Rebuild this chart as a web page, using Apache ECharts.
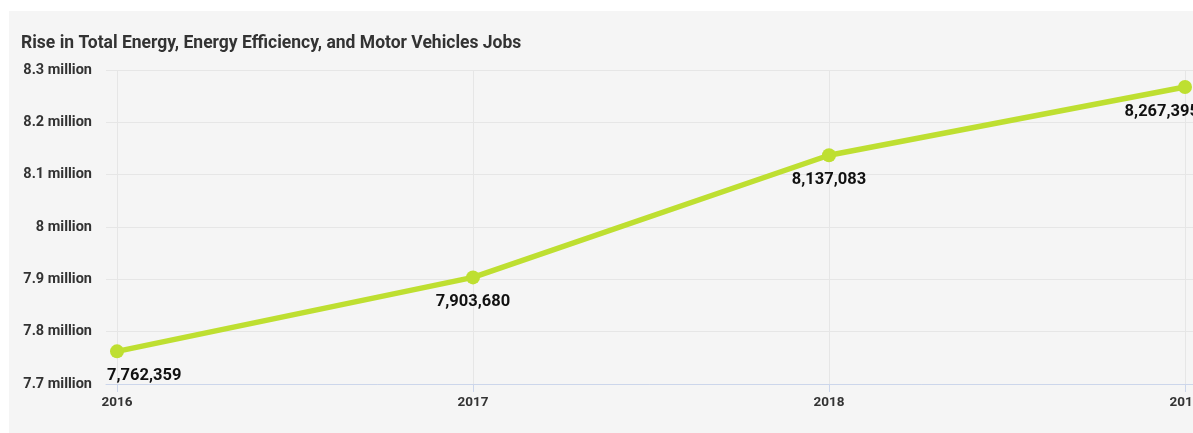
<!DOCTYPE html>
<html>
<head>
<meta charset="utf-8">
<script src="https://cdn.jsdelivr.net/npm/echarts@6/dist/echarts.min.js"></script>
<style>
  html, body { margin: 0; padding: 0; background: #ffffff; }
  #chart { width: 1193px; height: 433px; }
</style>
</head>
<body>
<div id="chart"></div>
<script>
// Jobs in total energy, energy efficiency and motor vehicles, by year
const years = ['2016', '2017', '2018', '2019'];
const jobs = [7762359, 7903680, 8137083, 8267395];
const yTicks = [7.7, 7.8, 7.9, 8.0, 8.1, 8.2, 8.3]; // millions

const titleText = 'Rise in Total Energy, Energy Efficiency, and Motor Vehicles Jobs';
const lineColor = '#bedf31';
const gridColor = '#e6e6e6';
const axisColor = '#ccd6eb';
const fontFamily = 'Roboto, "Noto Sans", sans-serif';

const yMin = yTicks[0] * 1e6;
const yMax = yTicks[yTicks.length - 1] * 1e6;

function millionLabel(v) {
  const m = Math.round(v / 1e5) / 10;
  return (Number.isInteger(m) ? m.toFixed(0) : m.toFixed(1)) + ' million';
}

const seriesData = jobs.map((v, i) => {
  const item = { value: v };
  // keep the end labels inside the plot area
  if (i === 0) {
    item.label = { align: 'left', offset: [-10, 0] };
  } else if (i === jobs.length - 1) {
    item.label = { align: 'right', offset: [14, 0] };
  }
  return item;
});

const chart = echarts.init(document.getElementById('chart'), null, { renderer: 'canvas' });

chart.setOption({
  animation: false,
  backgroundColor: '#ffffff',
  graphic: [{
    type: 'rect',
    left: 9, top: 11,
    shape: { width: 1200, height: 430 },
    style: { fill: '#f5f5f5' },
    z: -10, silent: true
  }],
  title: {
    text: titleText,
    left: 21, top: 35,
    padding: 0,
    textStyle: { fontFamily, fontSize: 17.5, fontWeight: 'bold', color: '#333333' }
  },
  grid: [
    // frame grid: horizontal gridlines, y labels, baseline
    { left: 106, right: -12, top: 70, bottom: 49, outerBoundsMode: 'none', containLabel: false },
    // data grid: years from first to last point
    { left: 117, right: 8, top: 70, bottom: 49, outerBoundsMode: 'none', containLabel: false }
  ],
  xAxis: [
    {
      gridIndex: 0, type: 'value', min: 0, max: 1,
      axisLine: { show: true, lineStyle: { color: axisColor, width: 1 } },
      axisTick: { show: false }, axisLabel: { show: false }, splitLine: { show: false }
    },
    {
      gridIndex: 1, type: 'category', data: years, boundaryGap: false,
      axisLine: { show: false },
      axisTick: { show: true, length: 8, lineStyle: { color: axisColor } },
      axisLabel: { margin: 12, fontFamily, fontSize: 13.5, fontWeight: 'bold', color: '#333333' },
      splitLine: { show: true, lineStyle: { color: gridColor, width: 1 } }
    }
  ],
  yAxis: [
    {
      gridIndex: 0, type: 'value', min: yMin, max: yMax, interval: 100000,
      axisLine: { show: false }, axisTick: { show: false },
      axisLabel: { margin: 14, fontFamily, fontSize: 14.5, fontWeight: 'bold', color: '#333333', formatter: millionLabel },
      splitLine: { show: true, lineStyle: { color: gridColor, width: 1 } }
    },
    {
      gridIndex: 1, type: 'value', min: yMin, max: yMax, interval: 100000,
      axisLine: { show: false }, axisTick: { show: false },
      axisLabel: { show: false }, splitLine: { show: false }
    }
  ],
  series: [{
    type: 'line',
    xAxisIndex: 1, yAxisIndex: 1,
    data: seriesData,
    lineStyle: { color: lineColor, width: 5.5 },
    itemStyle: { color: lineColor },
    symbol: 'circle', symbolSize: 14,
    clip: false,
    label: {
      show: true, position: 'bottom', distance: 9,
      fontFamily, fontSize: 16.5, fontWeight: 'bold', color: '#111111',
      formatter: p => p.value.toLocaleString('en-US')
    },
    z: 5
  }]
});
</script>
</body>
</html>
